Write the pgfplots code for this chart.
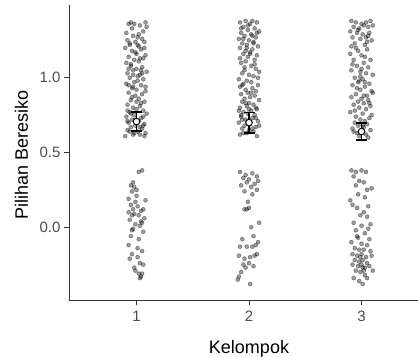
\documentclass[border=0pt]{standalone}
\usepackage{pgfplots}
\pgfplotsset{compat=1.18}
\usepackage{fontspec}
\setmainfont{Liberation Sans}
\definecolor{axcol}{RGB}{51,51,51}
\definecolor{tickcol}{RGB}{77,77,77}
\begin{document}
\begin{tikzpicture}
\path[use as bounding box] (-69bp,-57bp) rectangle (349bp,300bp);
\begin{axis}[
  at={(0,0)}, anchor=south west,
  scale only axis, width=360bp, height=295bp,
  xmin=0.4, xmax=3.6, ymin=-0.4867, ymax=1.4867,
  axis lines=left,
  axis line style={-, draw=axcol, line width=1bp},
  tick align=outside, major tick length=5bp,
  tick style={draw=axcol, line width=1bp},
  xtick={1,2,3}, ytick={0,0.5,1},
  yticklabel style={/pgf/number format/.cd, fixed, fixed zerofill, precision=1},
  xticklabel style={yshift=-3bp},
  /pgf/number format/assume math mode=true,
  ticklabel style={font=\fontsize{15bp}{18bp}\selectfont, text=tickcol},
  xlabel={Kelompok}, ylabel={Pilihan Beresiko},
  label style={font=\fontsize{18bp}{21bp}\selectfont},
  xlabel style={at={(axis description cs:0.5,-0.1797)}, anchor=base},
  ylabel style={at={(axis description cs:-0.1139,0.49)}, anchor=base, rotate=0},
  clip=false,
]
\pgfplotsset{pts/.style={only marks, mark=*, mark size=2bp,
  mark options={fill=black, draw=black, fill opacity=0.38, draw opacity=0.42, line width=0.5bp}}}
% group 1, Pilihan = 1
\addplot[pts] coordinates {
(0.93,1.36) (0.95,1.37) (1.08,1.37) (1.03,1.35) (0.91,1.30) (1.06,1.31) (0.97,1.28) (1.01,1.27) (1.05,1.26) (0.92,1.25)
(0.99,1.24) (1.07,1.24) (0.94,1.22) (1.02,1.21) (0.90,1.20) (1.04,1.19) (0.96,1.18) (1.00,1.16) (1.08,1.15) (0.93,1.14)
(1.06,1.13) (0.98,1.12) (1.02,1.11) (0.91,1.10) (0.95,1.08) (1.05,1.07) (1.00,1.06) (0.97,1.05) (1.09,1.04) (0.92,1.03)
(1.03,1.02) (1.01,1.01) (0.94,1.00) (1.06,0.99) (0.98,0.97) (0.91,0.96) (1.04,0.95) (1.08,0.94) (0.96,0.93) (1.00,0.92)
(0.93,0.90) (1.05,0.89) (0.99,0.88) (1.02,0.86) (0.95,0.85) (1.07,0.84) (0.92,0.82) (1.03,0.81) (0.97,0.80) (1.00,0.79)
(1.06,0.78) (0.94,0.77) (1.09,0.76) (0.98,0.75) (0.91,0.74) (1.04,0.73) (0.96,0.72) (1.02,0.71) (0.93,0.70) (1.07,0.69)
(0.99,0.68) (0.95,0.67) (1.05,0.66) (0.92,0.65) (1.01,0.64) (1.08,0.63) (0.97,0.62) (0.90,0.61) (1.03,0.62) (0.94,0.64)
(1.06,0.68) (0.99,0.72) (0.92,0.78) (1.04,0.83) (0.96,0.87) (1.08,0.91) (0.93,0.95) (1.01,0.98) (0.97,1.02) (1.05,1.03)
(0.95,1.09) (1.03,1.13) (0.99,1.17) (1.07,1.20) (0.94,1.23) (1.02,1.29) (0.96,1.33) (1.09,1.34) (0.98,1.36) (1.01,1.22)
(0.93,1.06) (1.04,1.05) (0.97,0.94) (1.00,0.84) (0.95,0.76) (1.06,0.74) (0.92,0.71) (1.03,0.67) (0.98,0.63) (1.07,0.61)
};
% group 1, Pilihan = 0
\addplot[pts] coordinates {
(1.02,0.37) (1.05,0.38) (0.97,0.30) (0.95,0.28) (0.98,0.27) (1.00,0.25) (0.96,0.24) (0.93,0.19) (0.99,0.17) (0.95,0.15)
(1.01,0.14) (1.06,0.12) (0.97,0.12) (1.04,0.11) (0.98,0.09) (0.96,0.08) (1.02,0.08) (1.07,0.06) (0.94,0.05) (1.05,0.03)
(0.99,0.02) (1.03,0.01) (0.97,-0.01) (1.06,-0.03) (0.95,-0.06) (1.02,-0.08) (0.93,-0.12) (1.01,-0.14) (1.05,-0.16) (0.96,-0.18)
(0.94,-0.21) (1.03,-0.24) (1.06,-0.25) (0.98,-0.27) (0.99,-0.29) (1.05,-0.31) (1.04,-0.33) (1.03,-0.34) (1.02,-0.31) (0.93,0.10)
(1.08,0.18) (1.00,0.21) (1.04,0.04) (0.96,-0.02) (1.01,-0.20)
};
% group 2, Pilihan = 1
\addplot[pts] coordinates {
(1.92,1.37) (1.97,1.38) (2.03,1.38) (2.07,1.37) (2.01,1.36) (1.95,1.34) (2.05,1.33) (1.99,1.32) (2.09,1.31) (1.93,1.30)
(2.02,1.29) (1.96,1.28) (2.06,1.27) (1.91,1.26) (2.00,1.25) (2.04,1.24) (1.94,1.23) (1.98,1.22) (2.08,1.21) (1.92,1.20)
(2.03,1.19) (1.97,1.18) (2.01,1.17) (1.95,1.16) (2.07,1.15) (1.99,1.14) (2.05,1.12) (1.93,1.10) (2.02,1.08) (1.96,1.07)
(2.06,1.06) (2.09,1.04) (1.94,1.03) (2.00,1.02) (2.04,1.01) (1.91,0.99) (1.98,0.98) (2.02,0.97) (1.95,0.96) (2.08,0.95)
(1.92,0.94) (2.03,0.93) (1.97,0.92) (2.06,0.91) (1.99,0.90) (1.93,0.89) (2.05,0.88) (2.01,0.87) (1.96,0.86) (2.09,0.85)
(1.94,0.84) (2.00,0.83) (2.04,0.82) (1.98,0.81) (1.92,0.80) (2.07,0.79) (2.02,0.78) (1.95,0.77) (1.99,0.76) (2.05,0.75)
(1.93,0.74) (2.03,0.73) (1.97,0.72) (2.08,0.71) (1.91,0.70) (2.01,0.69) (1.96,0.68) (2.06,0.67) (1.94,0.66) (2.00,0.65)
(2.04,0.64) (1.98,0.63) (1.92,0.62) (2.07,0.61) (1.95,0.63) (2.03,0.66) (1.99,0.70) (1.93,0.75) (2.06,0.80) (1.97,0.83)
(2.02,0.90) (1.94,0.95) (2.08,1.00) (1.96,1.05) (2.05,1.09) (1.92,1.13) (2.01,1.16) (1.98,1.20) (2.04,1.23) (1.95,1.26)
(2.07,1.30) (1.99,1.35) (1.93,1.33) (2.03,1.28) (1.97,1.11) (2.00,0.79) (1.94,0.72) (2.06,0.73) (1.91,0.78) (2.09,0.68)
};
% group 2, Pilihan = 0
\addplot[pts] coordinates {
(1.92,0.37) (1.97,0.35) (2.03,0.36) (2.07,0.34) (1.95,0.33) (2.00,0.32) (2.08,0.31) (1.98,0.30) (2.05,0.29) (1.93,0.28)
(2.02,0.27) (2.07,0.25) (1.96,0.24) (2.03,0.22) (1.99,0.17) (1.96,0.12) (1.98,0.12) (2.00,0.13) (2.02,0.00) (1.94,-0.08)
(2.04,-0.06) (2.08,-0.10) (1.92,-0.13) (1.98,-0.13) (2.03,-0.13) (2.06,-0.12) (1.91,-0.19) (1.96,-0.21) (2.01,-0.20) (2.05,-0.19)
(2.07,-0.18) (1.95,-0.25) (2.00,-0.24) (2.04,-0.26) (1.93,-0.30) (1.91,-0.33) (1.90,-0.35) (2.01,-0.38) (1.97,-0.27) (2.09,0.03)
};
% group 3, Pilihan = 1
\addplot[pts] coordinates {
(2.91,1.38) (2.95,1.37) (3.00,1.36) (3.04,1.37) (3.08,1.38) (3.10,1.35) (2.93,1.34) (2.98,1.33) (3.02,1.35) (3.06,1.34)
(2.90,1.31) (2.96,1.30) (3.01,1.29) (3.07,1.30) (2.92,1.27) (2.99,1.26) (3.04,1.27) (3.09,1.25) (2.94,1.23) (3.03,1.22)
(2.97,1.18) (3.05,1.19) (2.90,1.16) (3.00,1.15) (2.93,1.12) (3.08,1.12) (3.02,1.10) (2.96,1.08) (3.06,1.07) (2.91,1.05)
(2.99,1.04) (3.04,1.03) (3.10,1.02) (2.94,1.00) (3.01,0.99) (2.97,0.97) (3.07,0.96) (2.92,0.95) (3.03,0.94) (2.99,0.92)
(3.09,0.91) (2.95,0.89) (3.05,0.88) (2.91,0.87) (3.00,0.86) (3.06,0.85) (2.97,0.84) (3.02,0.83) (2.93,0.82) (3.08,0.81)
(2.98,0.80) (3.04,0.79) (2.90,0.77) (3.01,0.76) (2.95,0.74) (3.07,0.73) (2.99,0.72) (3.03,0.71) (2.94,0.70) (3.05,0.69)
(2.97,0.68) (3.02,0.67) (2.92,0.66) (3.08,0.65) (3.00,0.64) (2.96,0.63) (3.04,0.62) (2.98,0.61) (3.06,0.60) (2.93,0.64)
(3.01,0.68) (2.95,1.20) (3.03,1.14) (2.98,0.98) (3.10,0.90) (2.92,1.09) (3.06,1.28) (2.97,1.32) (3.02,0.88) (2.94,0.78)
(3.09,0.75) (2.99,1.01) (3.05,1.24) (2.91,1.21) (3.00,1.06) (2.96,0.93) (3.07,0.83) (3.03,0.97)
};
% group 3, Pilihan = 0
\addplot[pts] coordinates {
(2.91,0.38) (2.95,0.37) (3.00,0.38) (3.04,0.37) (2.93,0.34) (2.98,0.31) (3.02,0.30) (2.95,0.28) (3.05,0.25) (3.09,0.26)
(2.97,0.22) (3.03,0.20) (2.92,0.15) (2.96,0.13) (3.06,0.14) (2.99,0.08) (3.05,0.07) (2.93,0.03) (3.00,0.01) (3.08,0.02)
(2.95,-0.02) (3.03,-0.04) (2.97,-0.07) (3.07,-0.08) (2.91,-0.10) (3.00,-0.11) (3.05,-0.12) (2.94,-0.14) (2.98,-0.15) (3.02,-0.15)
(3.08,-0.16) (2.92,-0.18) (2.96,-0.19) (3.00,-0.18) (3.04,-0.20) (3.09,-0.19) (2.94,-0.22) (2.98,-0.23) (3.01,-0.22) (3.05,-0.24)
(2.92,-0.25) (2.97,-0.26) (3.00,-0.25) (3.03,-0.27) (3.07,-0.26) (2.95,-0.29) (2.99,-0.30) (3.02,-0.29) (3.10,-0.29) (2.93,-0.34)
(3.05,-0.34) (3.01,-0.38) (2.98,-0.36) (3.03,-0.32) (2.96,-0.06) (3.02,0.10) (2.90,0.18) (3.06,-0.01) (2.99,-0.20) (3.01,-0.27)
};
% error bars (mean +- CI)
\addplot[only marks, mark=none, forget plot,
  error bars/.cd, y dir=both, y explicit,
  error bar style={draw=black, line width=1.8bp},
  error mark options={draw=black, rotate=90, mark size=5.5bp, line width=1.8bp}]
coordinates {
(1,0.707) +- (0,0.063)
(2,0.700) +- (0,0.067)
(3,0.640) +- (0,0.057)
};
% means
\addplot[only marks, mark=*, mark size=3.3bp, mark options={fill=white, draw=black, line width=1bp}]
coordinates {(1,0.707) (2,0.700) (3,0.640)};
\end{axis}
\end{tikzpicture}
\end{document}
